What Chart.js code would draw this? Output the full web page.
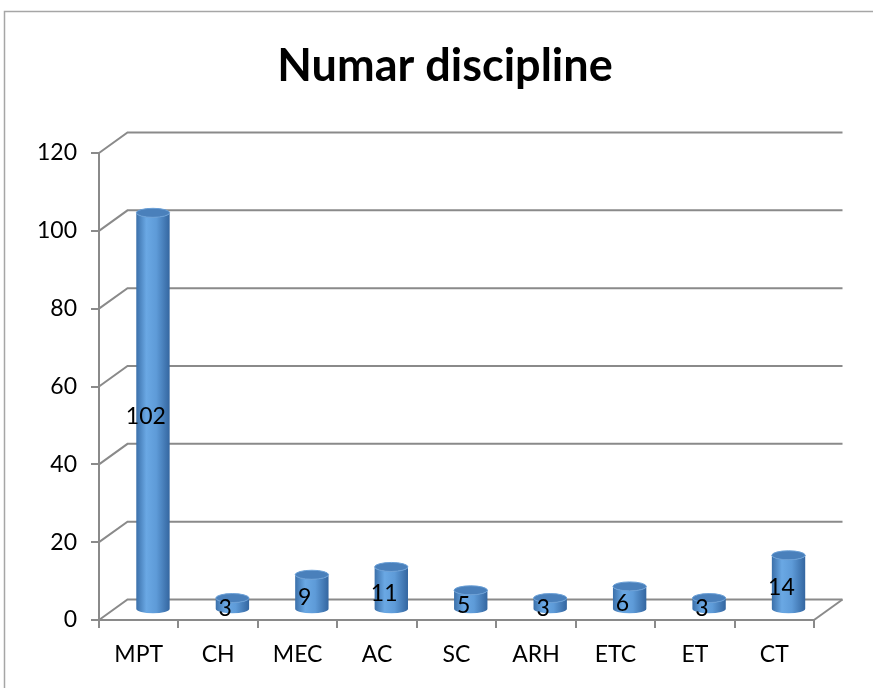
<!DOCTYPE html>
<html>
<head>
<meta charset="utf-8">
<script src="https://cdn.jsdelivr.net/npm/chart.js@4.4.0/dist/chart.umd.min.js"></script>
<style>
  html, body { margin: 0; padding: 0; background: #fff; }
  canvas { display: block; }
</style>
</head>
<body>
<canvas id="grafic" width="873" height="688"></canvas>
<script>
// Date
const categorii = ['MPT', 'CH', 'MEC', 'AC', 'SC', 'ARH', 'ETC', 'ET', 'CT'];
const valori = [102, 3, 9, 11, 5, 3, 6, 3, 14];
const titlu = 'Numar discipline';

// adancimea 3D (peretele din spate)
const DX = 28.5;
const DY = -20.5;
const GRI = '#8a8a8a';
const FONT = 'Lato, "Open Sans", sans-serif';

// chenarul graficului
const chenar = {
    id: 'chenar',
    beforeDraw(chart) {
        const ctx = chart.ctx;
        ctx.save();
        ctx.strokeStyle = '#a6a6a6';
        ctx.lineWidth = 1.5;
        ctx.strokeRect(4.5, 11.5, 1000, 1000);
        ctx.restore();
    }
};

// peretele din spate + podeaua
const perete3d = {
    id: 'perete3d',
    beforeDatasetsDraw(chart) {
        const { ctx, chartArea: a, scales: { y } } = chart;
        ctx.save();
        ctx.strokeStyle = GRI;
        ctx.lineWidth = 2;
        y.ticks.forEach(t => {
            const py = y.getPixelForValue(t.value);
            ctx.beginPath();
            ctx.moveTo(a.left, py);
            ctx.lineTo(a.left + DX, py + DY);
            ctx.lineTo(a.right + DX, py + DY);
            ctx.stroke();
        });
        ctx.beginPath();
        ctx.moveTo(a.right, a.bottom);
        ctx.lineTo(a.right + DX, a.bottom + DY);
        ctx.stroke();
        ctx.restore();
    }
};

// cilindrii si etichetele
const cilindri = {
    id: 'cilindri',
    afterDatasetsDraw(chart) {
        const ctx = chart.ctx;
        const y = chart.scales.y;
        const meta = chart.getDatasetMeta(0);
        ctx.save();
        meta.data.forEach(el => {
            const cx = el.x + DX / 2;
            const sus = el.y + DY / 2;
            const jos = el.base + DY / 2;
            const rx = el.width / 2;
            const ry = 4.5;

            const grad = ctx.createLinearGradient(cx - rx, 0, cx + rx, 0);
            grad.addColorStop(0, '#3b70aa');
            grad.addColorStop(0.3, '#6aa8e4');
            grad.addColorStop(0.6, '#5e9bd8');
            grad.addColorStop(1, '#3466a0');

            ctx.beginPath();
            ctx.moveTo(cx - rx, sus);
            ctx.lineTo(cx - rx, jos);
            ctx.ellipse(cx, jos, rx, ry, 0, Math.PI, 0, true);
            ctx.lineTo(cx + rx, sus);
            ctx.ellipse(cx, sus, rx, ry, 0, 0, Math.PI, false);
            ctx.closePath();
            ctx.fillStyle = grad;
            ctx.fill();

            ctx.beginPath();
            ctx.ellipse(cx, sus, rx, ry, 0, 0, Math.PI * 2);
            ctx.fillStyle = '#4a80bb';
            ctx.fill();
            ctx.strokeStyle = '#6a9fd6';
            ctx.lineWidth = 1;
            ctx.stroke();
        });

        ctx.fillStyle = '#000';
        ctx.font = '23px ' + FONT;
        ctx.textAlign = 'center';
        ctx.textBaseline = 'middle';
        meta.data.forEach((el, i) => {
            const v = valori[i];
            const lx = el.x + DX / 4;
            const ly = y.getPixelForValue(v / 2) + DY / 4;
            ctx.fillText(String(v), lx, ly);
        });
        ctx.restore();
    }
};

new Chart(document.getElementById('grafic'), {
    type: 'bar',
    data: {
        labels: categorii,
        datasets: [{
            data: valori,
            yAxisID: 'y',
            backgroundColor: 'rgba(0,0,0,0)',
            borderWidth: 0,
            categoryPercentage: 1,
            barPercentage: 0.42
        }]
    },
    options: {
        responsive: false,
        animation: false,
        layout: { padding: { left: 17, right: 0, top: 0, bottom: 0 } },
        plugins: {
            legend: { display: false },
            tooltip: { enabled: false },
            title: {
                display: true,
                text: titlu,
                color: '#000',
                font: { family: FONT, size: 45, weight: 'bold', lineHeight: 1.2 },
                padding: { top: 39, bottom: 60 }
            }
        },
        scales: {
            x: {
                afterFit: s => { s.height = 68; },
                grid: { display: true, drawOnChartArea: false, offset: true, tickLength: 8, color: GRI, lineWidth: 2 },
                border: { display: true, color: GRI, width: 2 },
                ticks: { color: '#000', font: { family: FONT, size: 23 }, padding: 13 }
            },
            y: {
                min: 0,
                max: 120,
                afterFit: s => { s.width = 82; },
                grid: { display: true, drawOnChartArea: false, tickLength: 8, color: GRI, lineWidth: 2 },
                border: { display: true, color: GRI, width: 2 },
                ticks: { stepSize: 20, color: '#000', font: { family: FONT, size: 23 }, padding: 14 }
            },
            // spatiu gol in dreapta pentru adancimea 3D
            spatiu: {
                position: 'right',
                min: 0,
                max: 120,
                afterFit: s => { s.width = 59; },
                grid: { display: false },
                border: { display: false },
                ticks: { display: false }
            }
        }
    },
    plugins: [chenar, perete3d, cilindri]
});
</script>
</body>
</html>
